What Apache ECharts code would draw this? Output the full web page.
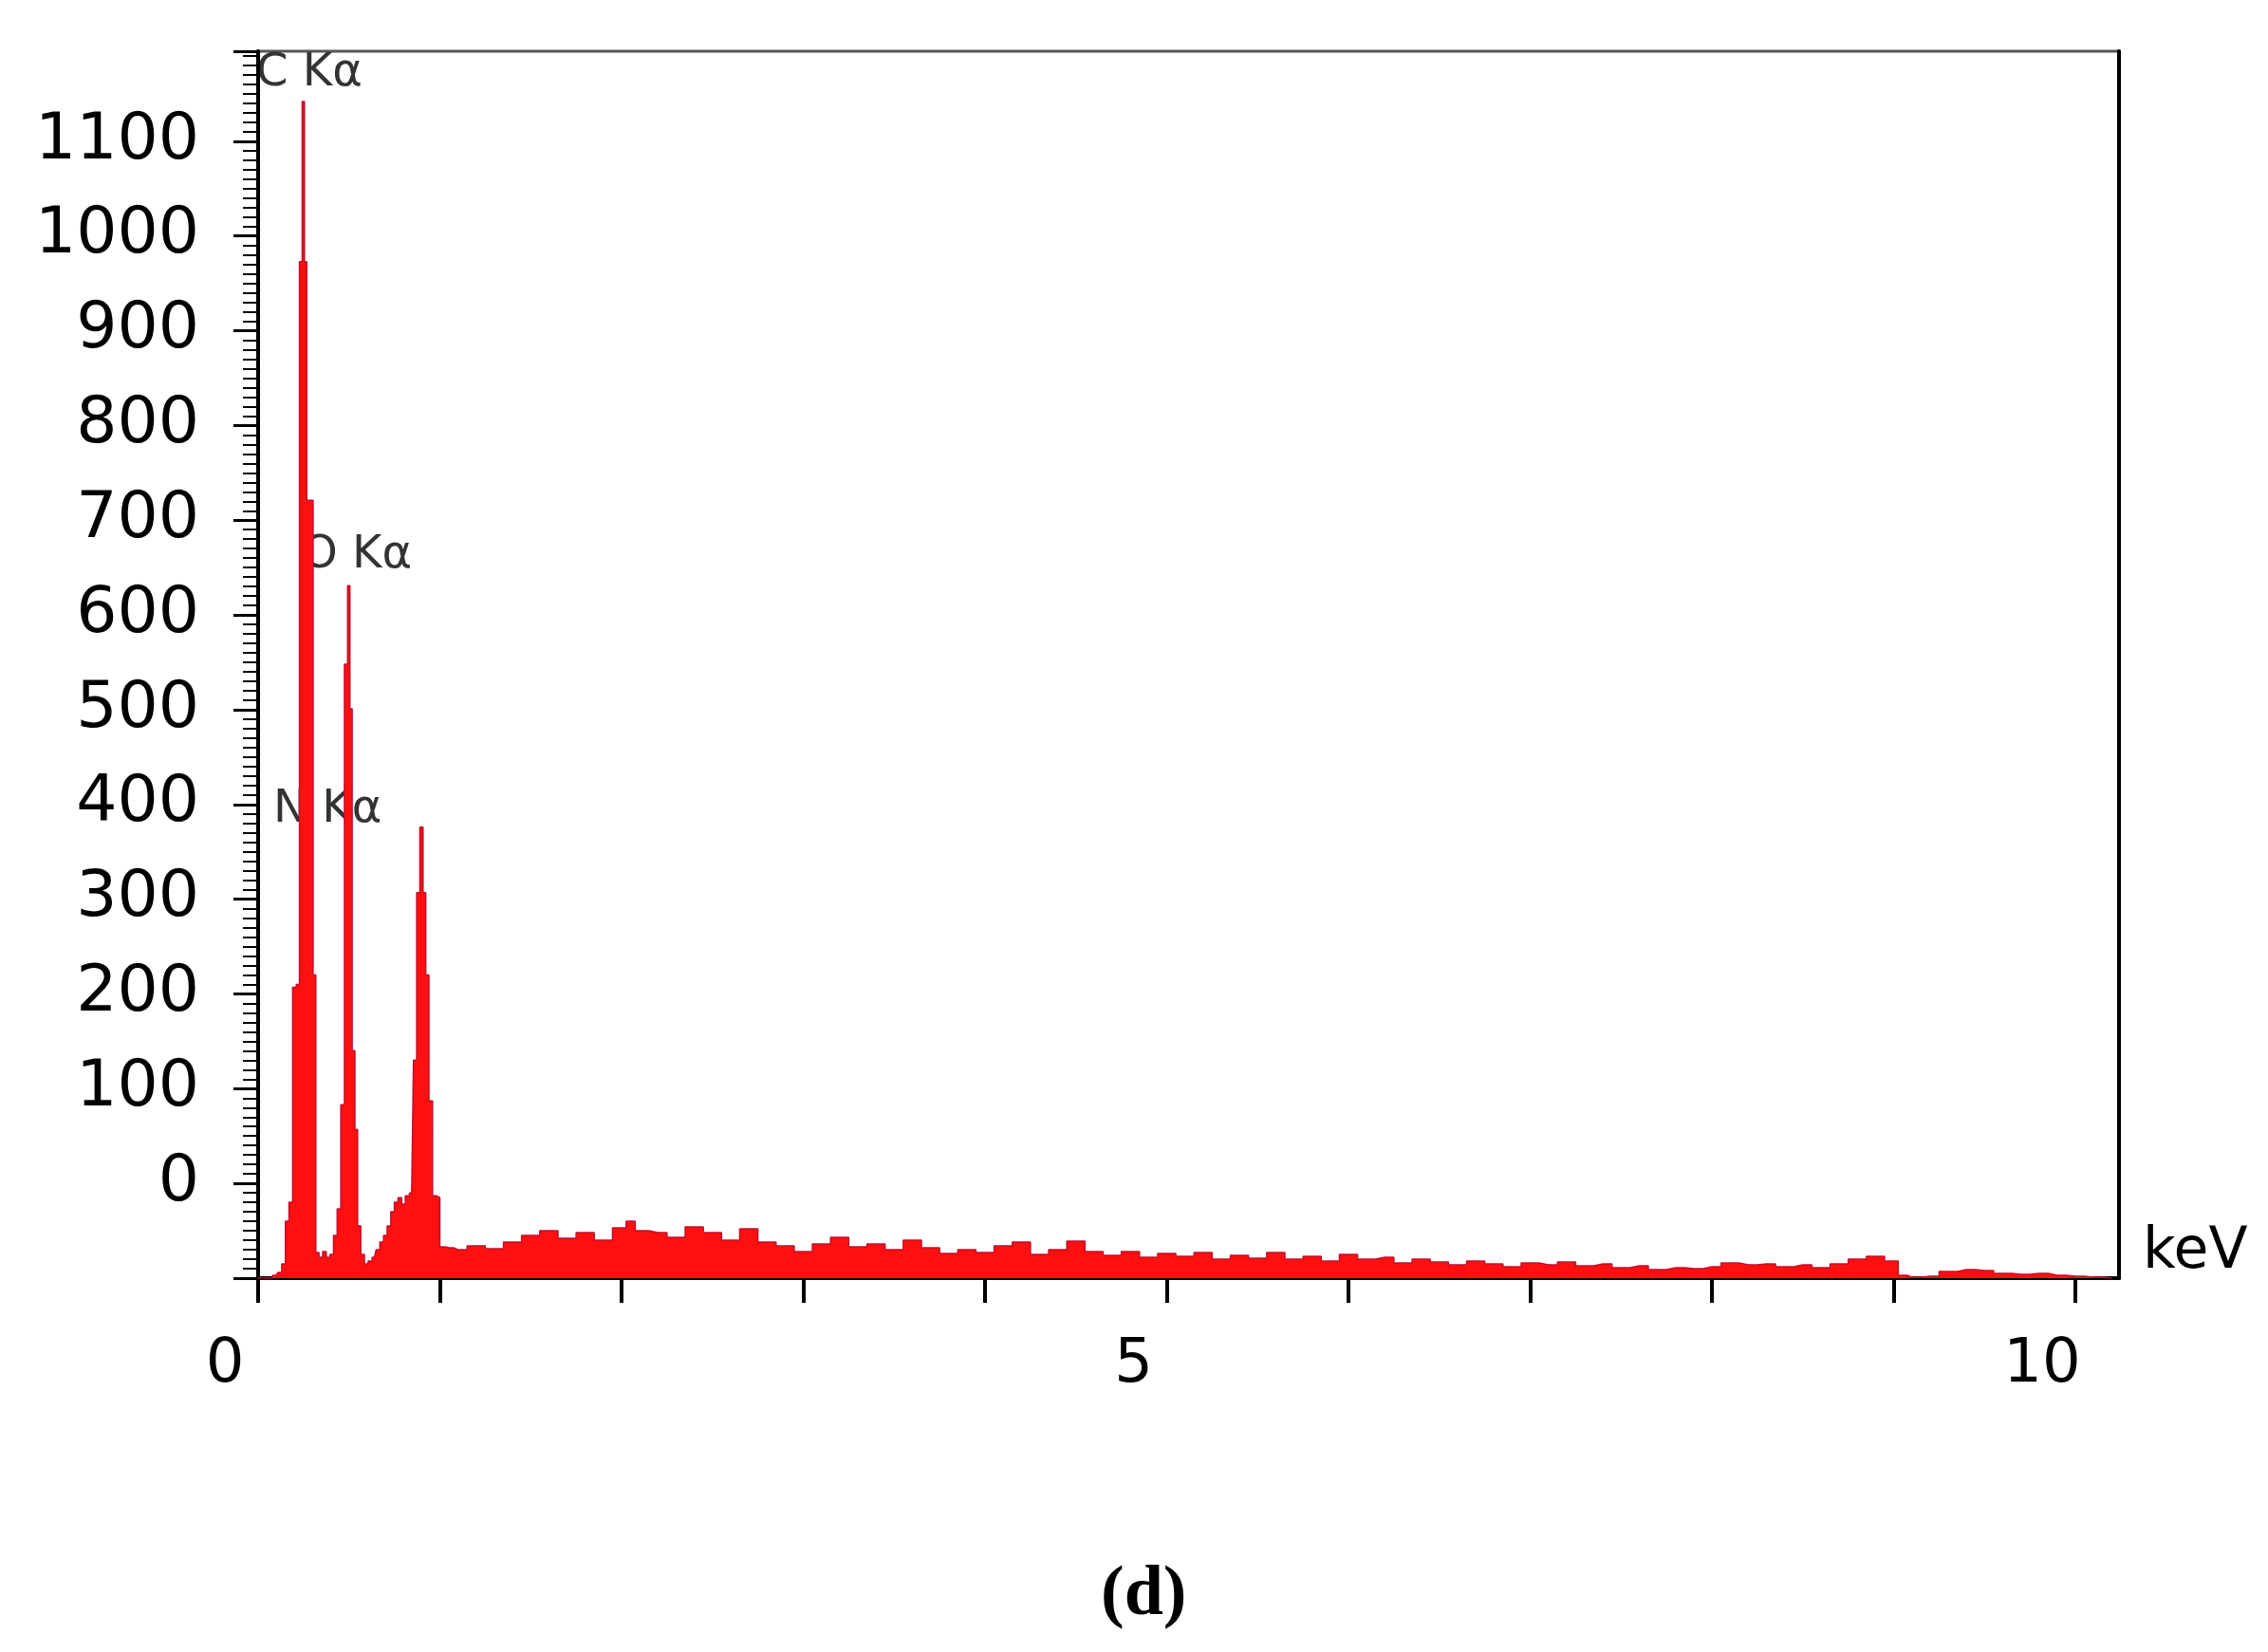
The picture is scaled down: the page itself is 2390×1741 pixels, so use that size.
<!DOCTYPE html>
<html><head><meta charset="utf-8">
<script src="https://cdn.jsdelivr.net/npm/echarts@6/dist/echarts.min.js"></script>
<style>html,body{margin:0;padding:0;background:#fff}#c{width:2390px;height:1741px}</style>
</head><body><div id="c"></div>
<script>
const energy = [0.00,0.06,0.10,0.12,0.14,0.16,0.18,0.20,0.22,0.235,0.25,0.26,0.275,0.295,0.31,0.325,0.345,0.365,0.385,0.405,0.425,0.445,0.465,0.485,0.50,0.51,0.525,0.54,0.555,0.575,0.595,0.615,0.64,0.66,0.68,0.70,0.72,0.74,0.76,0.78,0.80,0.82,0.845,0.865,0.88,0.90,0.915,0.93,0.95,0.97,0.99,1.01,1.05,
1.1,1.2,1.3,1.4,1.5,1.6,1.7,1.8,1.9,2.0,2.05,2.1,2.2,2.3,2.4,2.5,2.6,2.7,2.8,2.9,3.0,3.1,3.2,3.3,3.4,3.5,3.6,3.7,3.8,3.9,4.0,4.1,4.2,4.3,4.4,4.5,4.6,4.7,4.8,4.9,5.0,5.1,5.2,5.3,5.4,5.5,5.6,5.7,5.8,5.9,6.0,6.1,6.2,6.3,6.4,6.5,6.6,6.7,6.8,6.9,7.0,7.1,7.2,7.3,7.4,7.5,7.6,7.7,7.8,7.9,8.0,8.1,8.2,8.3,8.4,8.5,8.6,8.7,8.8,8.9,9.0,9.05,9.1,9.2,9.3,9.4,9.5,9.6,9.7,9.8,9.9,10.0,10.1,10.2];
const counts = [-100,-100,-97,-94,-85,-40,-20,207,210,973,1142,973,721,721,220,-73,-78,-72,-78,-75,-55,-27,83,548,631,501,140,57,-45,-75,-85,-82,-78,-70,-62,-55,-45,-30,-20,-15,-22,-13,-10,130,307,376,307,220,87,-13,-15,-67,-68,
-70,-66,-69,-62,-55,-50,-58,-52,-60,-47,-40,-50,-52,-57,-46,-52,-60,-48,-62,-66,-72,-64,-57,-67,-64,-70,-60,-68,-74,-70,-73,-66,-62,-75,-70,-61,-72,-76,-72,-78,-74,-77,-73,-80,-76,-79,-73,-80,-77,-82,-75,-80,-78,-84,-80,-83,-86,-82,-85,-88,-84,-86,-83,-87,-85,-89,-87,-91,-89,-90,-88,-84,-86,-85,-88,-86,-89,-85,-80,-77,-82,-97,-99,-98,-93,-91,-92,-95,-96,-95,-97,-98,-99,-100];
const xLabels = ['0','5','10'];
const yTickValues = [0,100,200,300,400,500,600,700,800,900,1000,1100];
const peakLabels = [{t:'C K\u03b1',x:270,y:80},{t:'O K\u03b1',x:318,y:588},{t:'N K\u03b1',x:288,y:856}];

const data = energy.map((e,i)=>[e,counts[i]]);
const chart = echarts.init(document.getElementById('c'));
chart.setOption({
  animation:false,
  grid:{left:272,right:157,top:54,bottom:394,show:true,borderColor:'#555',borderWidth:3},
  xAxis:{type:'value',min:0,max:10.24,interval:1,
    axisLine:{onZero:false,lineStyle:{color:'#000',width:4}},
    axisTick:{show:true,length:26,lineStyle:{color:'#000',width:4}},
    splitLine:{show:false},
    axisLabel:{margin:60,fontSize:64,color:'#000',fontFamily:'DejaVu Sans',padding:[0,70,0,0],
      showMaxLabel:false,
      formatter:v=>xLabels.includes(String(v))?String(v):''}},
  yAxis:[{type:'value',min:-100,max:1195,interval:100,
    axisLine:{show:true,lineStyle:{color:'#000',width:4}},
    axisTick:{show:true,length:26,lineStyle:{color:'#000',width:3}},
    minorTick:{show:true,splitNumber:10,length:16,lineStyle:{color:'#000',width:2}},
    splitLine:{show:false},
    axisLabel:{margin:62,fontSize:68,color:'#000',fontFamily:'DejaVu Sans',showMaxLabel:false,
      formatter:v=>yTickValues.includes(v)?String(v):''}},
    {type:'value',position:'right',min:-100,max:1195,
    axisLine:{show:true,lineStyle:{color:'#000',width:4}},
    axisTick:{show:false},axisLabel:{show:false},splitLine:{show:false}}],
  series:[{type:'line',data:data,step:'middle',symbol:'none',
    lineStyle:{color:'#c0102a',width:1.5},
    areaStyle:{color:'#ff1010',opacity:1,origin:'start'}}],
  graphic:peakLabels.map(p=>({type:'text',left:p.x,top:p.y-26,
    style:{text:p.t,fontSize:48,fill:'#333',fontFamily:'DejaVu Sans'}})).concat([
    {type:'text',left:2258,top:1290,style:{text:'keV',fontSize:60,fill:'#000',fontFamily:'DejaVu Sans'}},
    {type:'text',left:1160,top:1645,style:{text:'(d)',fontSize:74,fill:'#000',fontFamily:'Liberation Serif',fontWeight:'bold'}}
  ])
});
</script></body></html>
